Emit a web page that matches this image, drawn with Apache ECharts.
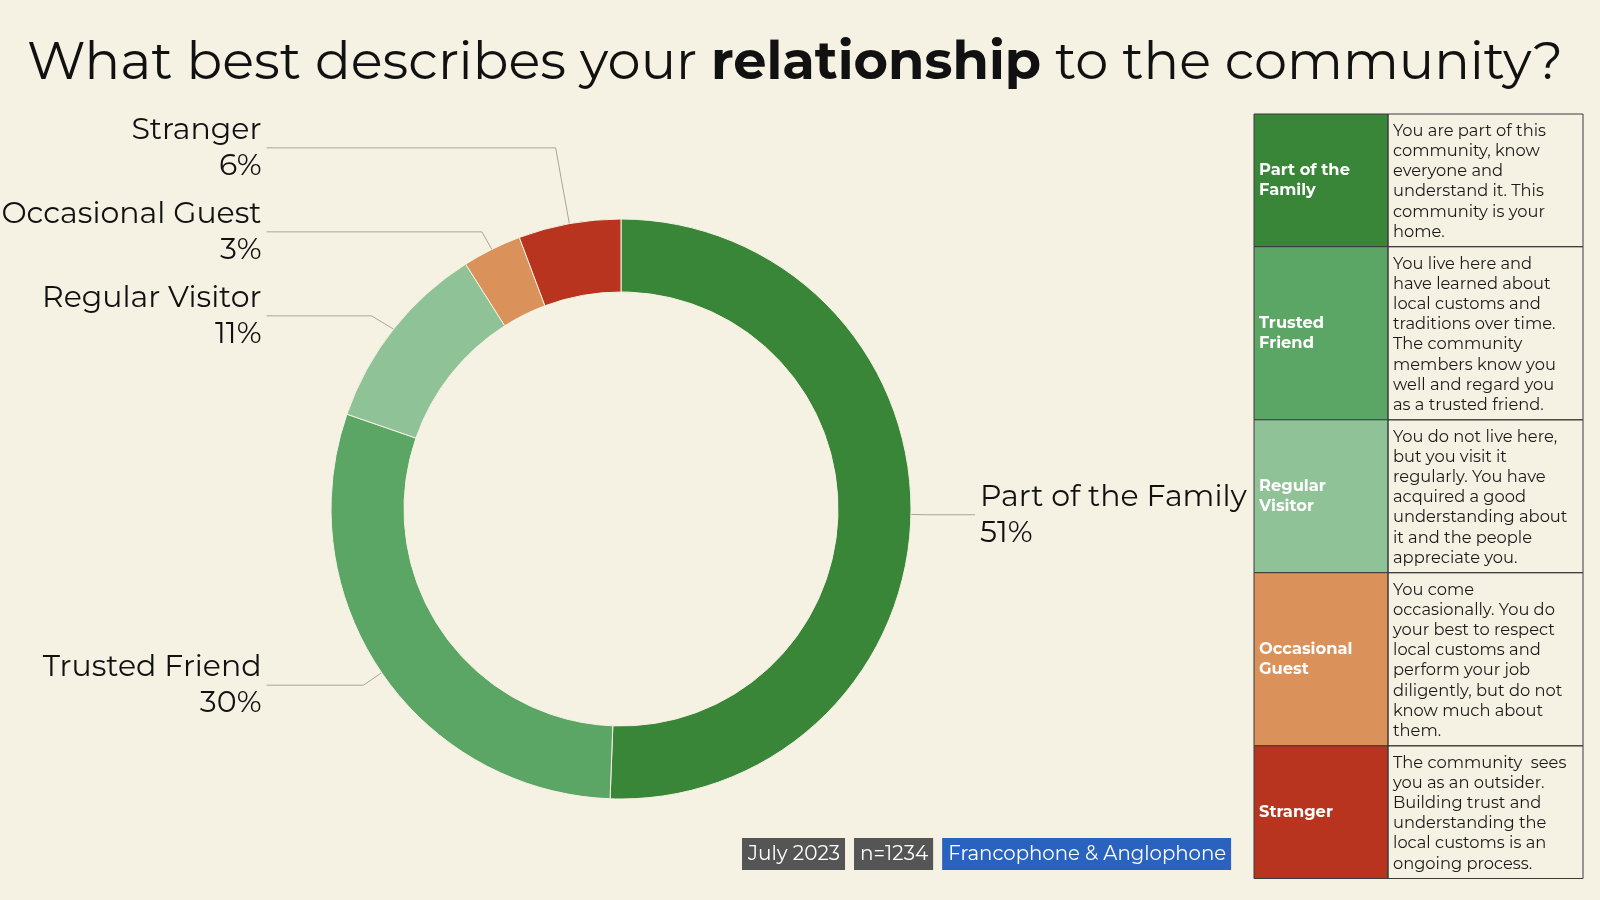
<!DOCTYPE html>
<html lang="en">
<head>
<meta charset="UTF-8">
<title>Relationship to the community</title>
<style>
  html, body { margin: 0; padding: 0; background: #f6f2e3; }
  #chart { width: 1600px; height: 900px; }
</style>
</head>
<body>
<div id="chart"></div>
<script src="https://cdn.jsdelivr.net/npm/echarts@6/dist/echarts.min.js"></script>
<script>
    var categories = ['Part of the Family', 'Trusted Friend', 'Regular Visitor', 'Occasional Guest', 'Stranger'];
    var shares = [50.6, 29.7, 10.7, 3.3, 5.7];
    var colors = ['#3a8639', '#5ca665', '#8fc297', '#db915a', '#b8341e'];

    var tableNames = ['Part of the\nFamily', 'Trusted\nFriend', 'Regular\nVisitor', 'Occasional\nGuest', 'Stranger'];
    var tableDescs = [
        'You are part of this\ncommunity, know\neveryone and\nunderstand it. This\ncommunity is your\nhome.',
        'You live here and\nhave learned about\nlocal customs and\ntraditions over time.\nThe community\nmembers know you\nwell and regard you\nas a trusted friend.',
        'You do not live here,\nbut you visit it\nregularly. You have\nacquired a good\nunderstanding about\nit and the people\nappreciate you.',
        'You come\noccasionally. You do\nyour best to respect\nlocal customs and\nperform your job\ndiligently, but do not\nknow much about\nthem.',
        'The community  sees\nyou as an outsider.\nBuilding trust and\nunderstanding the\nlocal customs is an\nongoing process.'
    ];
    var badges = ['July 2023', 'n=1234', 'Francophone & Anglophone'];

    var font = 'Montserrat, Inter, "DejaVu Sans", sans-serif';

    // leader line lengths per slice (first segment), same order as categories
    var lineLen = [15, 22, 28, 22, 77];

    // description table on the right
    var build_table = function () {
        var x0 = 1254, w1 = 134, w2 = 195, y = 114;
        var lh = 20.2, pad = 11.5;
        var els = [];
        tableDescs.forEach(function (desc, i) {
            var lines = desc.split('\n').length;
            var h = lines * lh + pad;
            els.push({
                type: 'rect',
                shape: {x: x0, y: y, width: w1, height: h},
                style: {fill: colors[i], stroke: '#3b3b3b', lineWidth: 1}
            });
            els.push({
                type: 'rect',
                shape: {x: x0 + w1, y: y, width: w2, height: h},
                style: {fill: 'transparent', stroke: '#3b3b3b', lineWidth: 1}
            });
            els.push({
                type: 'text',
                x: x0 + 5, y: y + h / 2,
                style: {
                    text: tableNames[i], fill: '#ffffff', font: 'bold 16.3px ' + font,
                    lineHeight: 20.2, verticalAlign: 'middle', align: 'left'
                }
            });
            els.push({
                type: 'text',
                x: x0 + w1 + 5, y: y + 7,
                style: {
                    text: desc, fill: '#1a1a1a', font: '16.3px ' + font,
                    lineHeight: lh, verticalAlign: 'top', align: 'left'
                }
            });
            y += h;
        });
        return els;
    };

    var badgeText = '{a|' + badges[0] + '}{g| }{a|' + badges[1] + '}{g| }{c|' + badges[2] + '}';

    var option = {
        backgroundColor: '#f6f2e3',
        title: {
            text: '{n|What best describes your }{b|relationship}{n| to the community?}',
            left: 27,
            top: 37,
            padding: 0,
            textStyle: {
                rich: {
                    n: {fontSize: 52.7, fontFamily: font, fontWeight: 400, color: '#111'},
                    b: {fontSize: 52.7, fontFamily: font, fontWeight: 700, color: '#111'}
                }
            }
        },
        graphic: build_table().concat([{
            type: 'text',
            x: 742, y: 838,
            style: {
                text: badgeText,
                rich: {
                    a: {backgroundColor: '#555555', fill: '#ffffff', fontSize: 20, fontFamily: font, padding: [6, 5, 6, 6]},
                    c: {backgroundColor: '#2a62bf', fill: '#ffffff', fontSize: 19.7, fontFamily: font, padding: [6, 5, 6, 6]},
                    g: {fontSize: 10, width: 9}
                }
            }
        }]),
        series: [{
            type: 'pie',
            left: 0, top: 0, width: 1250, height: 900,
            center: [621, 509],
            radius: [217, 290],
            startAngle: 90,
            clockwise: true,
            avoidLabelOverlap: true,
            itemStyle: {borderColor: '#f6f2e3', borderWidth: 1},
            label: {
                show: true,
                position: 'outer',
                alignTo: 'labelLine',
                distanceToLabelLine: 5,
                bleedMargin: 0,
                overflow: 'none',
                width: 270,
                fontSize: 30,
                lineHeight: 36,
                padding: [5, 0],
                fontFamily: font,
                color: '#111',
                formatter: function (p) {
                    return p.name + '\n' + Math.round(p.value) + '%';
                }
            },
            labelLine: {
                show: true,
                length: 15,
                length2: 97,
                lineStyle: {color: '#a9a59b', width: 1}
            },
            emphasis: {scale: false},
            data: categories.map(function (c, i) {
                var item = {
                    name: c,
                    value: shares[i],
                    itemStyle: {color: colors[i]},
                    labelLine: {length: lineLen[i]}
                };
                if (i === 0) {
                    item.labelLine.length2 = 49;
                }
                return item;
            })
        }]
    };

    var chart = echarts.init(document.getElementById('chart'));
    chart.setOption(option);
</script>
</body>
</html>
